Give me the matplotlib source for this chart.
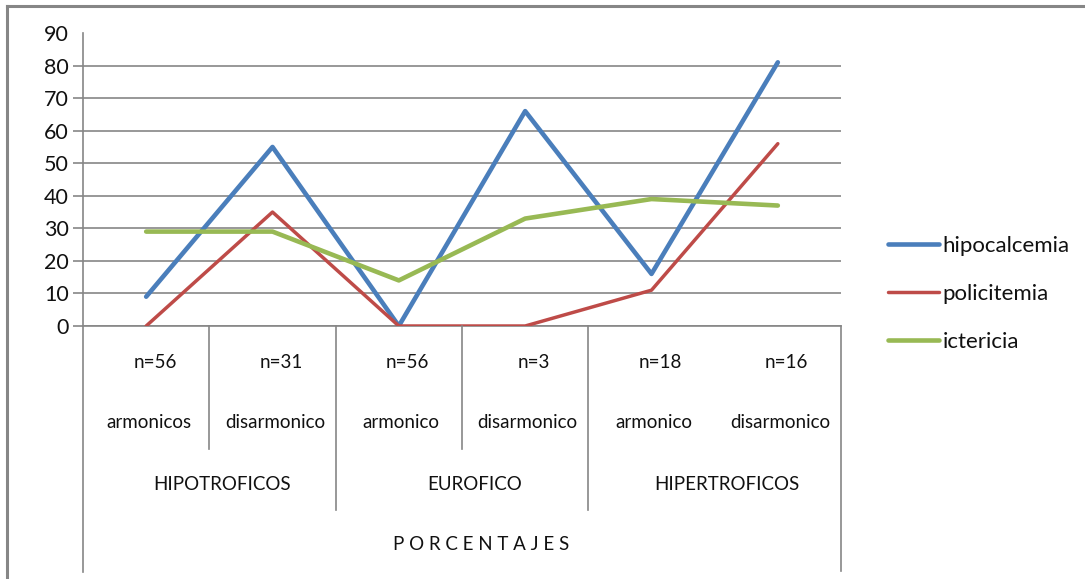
import matplotlib
matplotlib.use("Agg")
import matplotlib.pyplot as plt
from matplotlib.lines import Line2D

plt.rcParams['font.family'] = ['Lato', 'DejaVu Sans']

n_labels = ["n=56", "n=31", "n=56", "n=3", "n=18", "n=16"]
sub_labels = ["armonicos", "disarmonico", "armonico", "disarmonico", "armonico", "disarmonico"]
groups = ["HIPOTROFICOS", "EUROFICO", "HIPERTROFICOS"]
axis_title = "P O R C E N T A J E S"

hipocalcemia = [9, 55, 0, 66, 16, 81]
policitemia = [0, 35, 0, 0, 11, 56]
ictericia = [29, 29, 14, 33, 39, 37]

W, H = 1085, 579
fig = plt.figure(figsize=(W / 100, H / 100), dpi=100)

def fx(px):
    return px / W

def fy(py):
    return 1 - py / H

GRID = "#868686"
TXT = "#111111"

# outer frame (top and left edges)
fig.add_artist(Line2D([fx(7), 1], [fy(6), fy(6)], color=GRID, lw=2.2))
fig.add_artist(Line2D([fx(7), fx(7)], [fy(6), 0], color=GRID, lw=2.2))

left, right, top, bottom = 83, 841, 33, 326
ax = fig.add_axes([fx(left), fy(bottom), fx(right - left), (bottom - top) / H])
x = list(range(len(n_labels)))
ax.plot(x, hipocalcemia, color="#4a7ebb", lw=3.3, solid_capstyle="round", label="hipocalcemia", zorder=3)
ax.plot(x, policitemia, color="#be4b48", lw=2.5, solid_capstyle="round", label="policitemia", zorder=3)
ax.plot(x, ictericia, color="#98b954", lw=3.3, solid_capstyle="round", label="ictericia", zorder=3)

ax.set_xlim(-0.5, len(n_labels) - 0.5)
ax.set_ylim(0, 90)
ax.set_yticks(range(0, 91, 10))
ax.tick_params(axis="y", length=7, color=GRID, width=1.2, labelsize=15.5, labelcolor=TXT, pad=3)
ax.set_xticks([])
for s in ["top", "right"]:
    ax.spines[s].set_visible(False)
ax.spines["left"].set_color(GRID)
ax.spines["left"].set_linewidth(1.2)
ax.spines["bottom"].set_color(GRID)
ax.spines["bottom"].set_linewidth(1.2)
ax.yaxis.grid(True, color=GRID, lw=1.2)
ax.set_axisbelow(True)
ax.yaxis.get_gridlines()[-1].set_visible(False)
ax.yaxis.get_major_ticks()[-1].tick1line.set_visible(False)

# category table below the axis
tab = fig.add_axes([fx(left), 0, fx(right - left), (H - bottom) / H])
tab.set_xlim(-0.5, len(n_labels) - 0.5)
tab.set_ylim(H, bottom)
tab.axis("off")
lk = dict(color=GRID, lw=1.2, clip_on=False)
tab.plot([-0.5, -0.5], [bottom, 572], **lk)
tab.plot([5.5, 5.5], [bottom, 571], **lk)
for b in [0.5, 2.5]:
    tab.plot([b, b], [bottom, 449], **lk)
for b in [1.5, 3.5]:
    tab.plot([b, b], [bottom, 510], **lk)

for i, (n, s) in enumerate(zip(n_labels, sub_labels)):
    tab.text(i + 0.07, 362, n, ha="center", va="center", fontsize=13.5, color=TXT)
    tab.text(i + 0.02, 422, s, ha="center", va="center", fontsize=13.5, color=TXT)
for g, name in enumerate(groups):
    tab.text(2 * g + 0.6, 484, name, ha="center", va="center", fontsize=13.5, color=TXT)
tab.text(2.65, 545, axis_title, ha="center", va="center", fontsize=13.5, color=TXT)

# legend
handles, labels = ax.get_legend_handles_labels()
fig.legend(handles, labels, loc="center left", bbox_to_anchor=(fx(868), fy(294)),
           frameon=False, fontsize=16, handlelength=2.3, handletextpad=0.15,
           labelspacing=1.25, labelcolor=TXT)

fig.savefig("out.png", dpi=100)
